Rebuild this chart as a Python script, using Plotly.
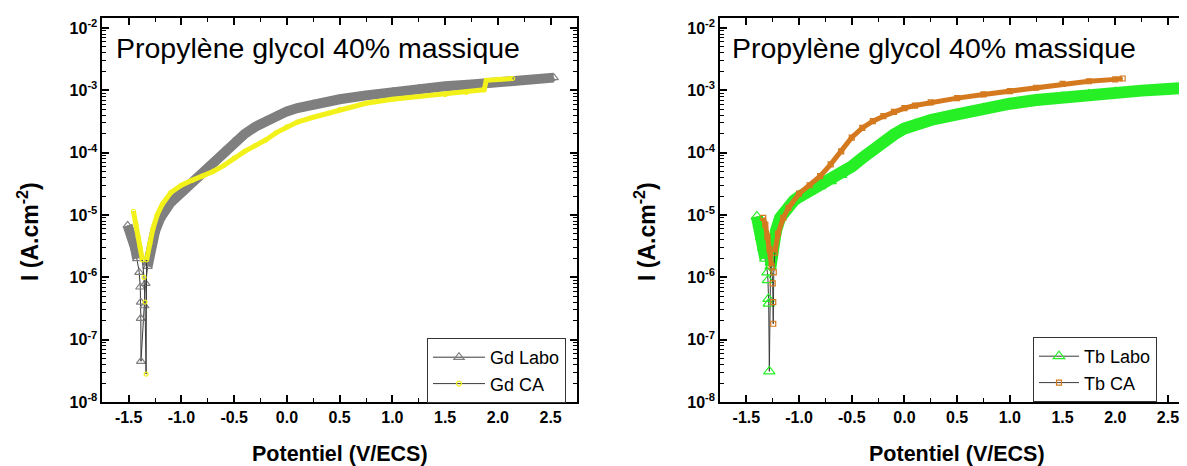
import numpy as np
import plotly.graph_objects as go

# ---------------- data ----------------
gd_labo_E = [-1.51, -1.47, -1.44, -1.42, -1.40, -1.39, -1.385, -1.385, -1.383, -1.35, -1.34, -1.32,
             -1.30, -1.28, -1.25, -1.20, -1.10, -1.00, -0.90, -0.80, -0.70, -0.60, -0.50, -0.40,
             -0.30, -0.20, -0.10, 0.00, 0.10, 0.25, 0.50, 0.75, 1.00, 1.25, 1.50, 1.75, 2.00,
             2.25, 2.50, 2.53]
gd_labo_I = [6.8e-6, 4.5e-6, 3.0e-6, 2.0e-6, 1.2e-6, 7e-7, 4e-7, 2.2e-7, 4.5e-8, 3.5e-7, 8e-7, 1.5e-6,
             2.5e-6, 3.5e-6, 5.5e-6, 9e-6, 1.6e-5, 2.3e-5, 3.3e-5, 4.8e-5, 7.0e-5, 1.05e-4, 1.5e-4, 2.0e-4,
             2.6e-4, 3.2e-4, 3.9e-4, 4.6e-4, 5.2e-4, 6.0e-4, 7.2e-4, 8.3e-4, 9.4e-4, 1.06e-3, 1.16e-3, 1.24e-3,
             1.32e-3, 1.42e-3, 1.55e-3, 1.6e-3]

gd_ca_E = [-1.455, -1.43, -1.41, -1.39, -1.37, -1.355, -1.345, -1.335, -1.33, -1.30, -1.27, -1.23,
           -1.18, -1.10, -1.00, -0.90, -0.80, -0.70, -0.60, -0.50, -0.40, -0.30, -0.20, -0.10,
           0.00, 0.10, 0.25, 0.50, 0.75, 1.00, 1.25, 1.50, 1.70, 1.87, 1.89, 2.00, 2.14]
gd_ca_I = [1.15e-5, 7e-6, 4.5e-6, 3.0e-6, 1.9e-6, 1.0e-6, 4e-7, 2.8e-8, 1.9e-6, 3.5e-6, 6e-6, 1.0e-5,
           1.5e-5, 2.3e-5, 3.0e-5, 3.6e-5, 4.2e-5, 5.0e-5, 6.2e-5, 8.2e-5, 1.05e-4, 1.3e-4, 1.6e-4, 2.1e-4,
           2.6e-4, 3.1e-4, 3.7e-4, 4.9e-4, 6.2e-4, 7.2e-4, 7.9e-4, 8.5e-4, 9.3e-4, 1.02e-3, 1.45e-3, 1.5e-3, 1.55e-3]

tb_labo_E = [-1.40, -1.38, -1.36, -1.34, -1.32, -1.30, -1.295, -1.29, -1.288, -1.282, -1.27, -1.25,
             -1.22, -1.18, -1.12, -1.05, -1.00, -0.90, -0.80, -0.70, -0.60, -0.50, -0.40, -0.30,
             -0.20, -0.10, 0.00, 0.10, 0.25, 0.50, 0.75, 1.00, 1.25, 1.50, 1.75, 2.00, 2.25, 2.50, 2.65]
tb_labo_I = [9.5e-6, 7e-6, 4.5e-6, 3.0e-6, 2.0e-6, 1.2e-6, 9e-7, 4.5e-7, 3.8e-7, 3.1e-8, 1.5e-6, 3.0e-6,
             5.5e-6, 9e-6, 1.3e-5, 1.7e-5, 1.95e-5, 2.4e-5, 2.9e-5, 3.5e-5, 4.4e-5, 6.0e-5, 8.2e-5, 1.12e-4,
             1.5e-4, 1.95e-4, 2.45e-4, 2.85e-4, 3.35e-4, 4.1e-4, 5.1e-4, 6.1e-4, 7.0e-4, 7.8e-4, 8.6e-4, 9.3e-4,
             9.9e-4, 1.05e-3, 1.1e-3]

tb_ca_E = [-1.34, -1.32, -1.30, -1.28, -1.26, -1.25, -1.245, -1.245, -1.24, -1.23, -1.20, -1.15,
           -1.10, -1.00, -0.90, -0.80, -0.70, -0.60, -0.50, -0.40, -0.30, -0.20, -0.10, 0.00,
           0.10, 0.25, 0.50, 0.75, 1.00, 1.25, 1.50, 1.75, 2.00, 2.07]
tb_ca_I = [9e-6, 7e-6, 4.5e-6, 2.8e-6, 1.5e-6, 8e-7, 4e-7, 1.8e-7, 1.2e-6, 2.5e-6, 5e-6, 9e-6,
           1.3e-5, 2.2e-5, 3.0e-5, 4.2e-5, 6.5e-5, 1.05e-4, 1.75e-4, 2.5e-4, 3.2e-4, 3.85e-4, 4.5e-4, 5.2e-4,
           5.7e-4, 6.4e-4, 7.5e-4, 8.6e-4, 9.7e-4, 1.1e-3, 1.27e-3, 1.4e-3, 1.5e-3, 1.55e-3]

x_tick_vals = [-1.5, -1.0, -0.5, 0.0, 0.5, 1.0, 1.5, 2.0, 2.5]
x_tick_text = ["-1.5", "-1.0", "-0.5", "0.0", "0.5", "1.0", "1.5", "2.0", "2.5"]
y_exponents = [-8, -7, -6, -5, -4, -3, -2]

title_text = "Propylène glycol 40% massique"
x_title = "Potentiel (V/ECS)"
y_title = "I (A.cm<sup>-2</sup>)"

# ---------------- styling ----------------
OFF = 8                      # page body margin of the browser
W, H = 1187 - OFF, 466 - OFF
FONT = "Arial, 'Liberation Sans', sans-serif"
BAND_MIN = 1.5e-6
DARK = "#3a3a3a"

def px(x):  # reference-pixel x -> paper fraction
    return (x - OFF) / W

def py(y):  # reference-pixel y -> paper fraction
    return 1 - (y - OFF) / H

series = [
    ("Gd Labo", gd_labo_E, gd_labo_I, "#7f7f7f", 10, "triangle-up-open", 8, 1, "legend"),
    ("Gd CA", gd_ca_E, gd_ca_I, "#f2f21a", 5, "circle-open", 4, 1, "legend"),
    ("Tb Labo", tb_labo_E, tb_labo_I, "#26ef26", 12, "triangle-up-open", 10, 2, "legend2"),
    ("Tb CA", tb_ca_E, tb_ca_I, "#d4791e", 5, "square-open", 5, 2, "legend2"),
]

fig = go.Figure()
for name, E, I, col, bw, sym, ms, ax, leg in series:
    xa = "x" if ax == 1 else "x2"
    ya = "y" if ax == 1 else "y2"
    fig.add_trace(go.Scatter(x=E, y=I, mode="lines+markers", xaxis=xa, yaxis=ya,
                             line=dict(color=DARK, width=1),
                             marker=dict(symbol=sym, size=ms, color=col, line=dict(width=1.2, color=col)),
                             showlegend=False, hoverinfo="skip"))
    band = [v if v >= BAND_MIN else None for v in I]
    fig.add_trace(go.Scatter(x=E, y=band, mode="lines", xaxis=xa, yaxis=ya,
                             line=dict(color=col, width=bw), connectgaps=False,
                             showlegend=False, hoverinfo="skip"))
    fig.add_trace(go.Scatter(x=[None], y=[None], mode="lines+markers", name=name, xaxis=xa, yaxis=ya,
                             line=dict(color=DARK, width=1),
                             marker=dict(symbol=sym, size=max(ms, 9) if "triangle" in sym else 5,
                                         color=col, line=dict(width=1.2, color=col)),
                             legend=leg))

minor_y = [k * 10.0 ** e for e in range(-8, -1) for k in range(2, 10)]
minor_x = [v + 0.25 for v in [-2.0] + x_tick_vals]

TICKFONT = dict(family=FONT, size=16, color="black", weight="bold")

def xaxis_cfg(domain, rng):
    return dict(domain=domain, range=rng, tickmode="array", tickvals=x_tick_vals, ticktext=x_tick_text,
                ticks="inside", ticklen=7, tickwidth=1.5, tickcolor="black",
                showline=True, linewidth=1.5, linecolor="black", mirror="allticks",
                showgrid=False, zeroline=False, automargin=False, tickfont=TICKFONT,
                minor=dict(ticks="inside", ticklen=4, tickwidth=1.2, tickcolor="black", tickvals=minor_x,
                           showgrid=False))

def yaxis_cfg(domain):
    return dict(domain=domain, type="log", range=[-8, -1.844], tickmode="array",
                tickvals=[10.0 ** e for e in y_exponents],
                ticktext=["10<sup>%d</sup>" % e for e in y_exponents],
                ticks="inside", ticklen=7, tickwidth=1.5, tickcolor="black",
                showline=True, linewidth=1.5, linecolor="black", mirror="allticks",
                showgrid=False, zeroline=False, automargin=False, tickfont=TICKFONT,
                minor=dict(ticks="inside", ticklen=4, tickwidth=1.0, tickcolor="black", tickvals=minor_y,
                           showgrid=False))

ydom = [py(402), py(18.3)]
LEGFONT = dict(family=FONT, size=18, color="black")
fig.update_layout(
    width=W, height=H, margin=dict(l=0, r=0, t=0, b=0),
    paper_bgcolor="white", plot_bgcolor="white",
    font=dict(family=FONT, color="black"),
    xaxis=dict(anchor="y", **xaxis_cfg([px(102.3), px(577)], [-1.75, 2.75])),
    yaxis=dict(anchor="x", **yaxis_cfg(ydom)),
    xaxis2=dict(anchor="y2", **xaxis_cfg([px(720), px(1186)], [-1.75, -1.75 + 466 / 105.4])),
    yaxis2=dict(anchor="x2", **yaxis_cfg(ydom)),
    legend=dict(x=px(427), y=py(338), xanchor="left", yanchor="top", bgcolor="white",
                bordercolor="#333", borderwidth=1, font=LEGFONT, tracegroupgap=0, itemwidth=52),
    legend2=dict(x=px(1033), y=py(337), xanchor="left", yanchor="top", bgcolor="white",
                 bordercolor="#333", borderwidth=1, font=LEGFONT, tracegroupgap=0, itemwidth=40),
    showlegend=True,
)

ann = []
for cx, tx in [(340, 114), (957, 730)]:
    ann.append(dict(text=title_text, x=px(tx), y=py(48), xref="paper", yref="paper",
                    xanchor="left", yanchor="middle", showarrow=False,
                    font=dict(family=FONT, size=28.5, color="black")))
    ann.append(dict(text="<b>%s</b>" % x_title, x=px(cx), y=py(454), xref="paper", yref="paper",
                    xanchor="center", yanchor="middle", showarrow=False,
                    font=dict(family=FONT, size=21.5, color="black")))
for xc in [28, 645]:
    ann.append(dict(text="<b>%s</b>" % y_title, x=px(xc), y=py(232), xref="paper", yref="paper",
                    xanchor="center", yanchor="middle", showarrow=False, textangle=-90,
                    font=dict(family=FONT, size=23, color="black")))
fig.update_layout(annotations=ann)

fig.write_html("out.html")
